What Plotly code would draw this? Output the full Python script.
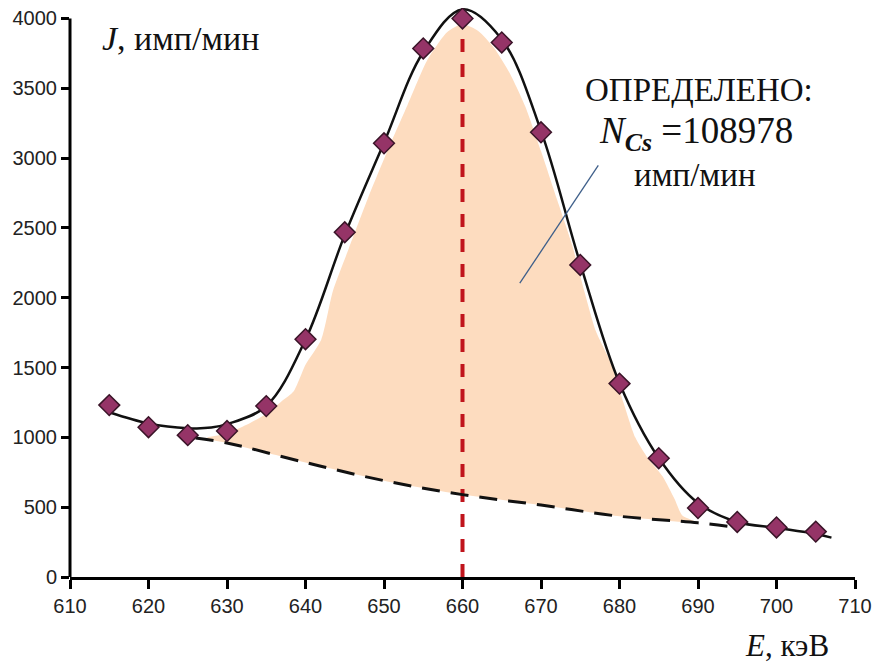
import plotly.graph_objects as go

# Measured spectrum points (energy, keV -> count rate, imp/min)
energy = [615, 620, 625, 630, 635, 640, 645, 650, 655, 660,
          665, 670, 675, 680, 685, 690, 695, 700, 705]
counts = [1231, 1073, 1016, 1045, 1224, 1703, 2469, 3106, 3785, 4000,
          3828, 3185, 2235, 1385, 851, 494, 394, 355, 325]

# Fitted peak curve
fit_e = [615, 620, 625, 628, 630, 635, 640, 645, 650, 655, 660,
         665, 670, 675, 680, 685, 690, 695, 700, 705, 707]
fit_j = [1180, 1100, 1066, 1070, 1095, 1224, 1700, 2450, 3110, 3760, 4065,
         3850, 3195, 2245, 1388, 852, 530, 394, 352, 308, 282]

# Background (continuum) under the peak
bg_e = [626, 630, 640, 650, 660, 670, 680, 690, 694]
bg_j = [995, 960, 820, 690, 590, 515, 435, 388, 362]

# Outline of the shaded net-peak area
area_top_e = [627.5, 630, 632.5, 635, 637, 638.5, 640, 642, 643.5, 645.5, 648,
              650.5, 653, 655.5, 658, 660, 662, 664, 666, 668, 670, 672,
              674, 675.5, 677, 679, 680.5, 682, 683.5, 685.5, 687, 688, 690]
area_top_j = [1000, 1030, 1090, 1170, 1260, 1330, 1520, 1700, 2050, 2350, 2720,
              3060, 3380, 3700, 3900, 3960, 3910, 3790, 3610, 3370, 3050, 2710,
              2370, 2050, 1760, 1520, 1250, 1000, 860, 720, 560, 440, 390]
area_bot_e = [690, 680, 670, 660, 650, 640, 630, 627.5]
area_bot_j = [388, 435, 515, 590, 690, 820, 960, 985]

peak_e = 660
peak_top = 3900
leader_e = [667.3, 677.3]
leader_j = [2104, 2948]

x_ticks = list(range(610, 711, 10))
y_ticks = list(range(0, 4001, 500))
y_max_tick = 4000
y_view_top = 4075   # a little headroom so the fitted peak is not clipped

tick_font = dict(family="Liberation Sans Narrow, Arial Narrow, Liberation Sans, sans-serif",
                 size=20, color="#222222")
serif = "Liberation Serif, Times New Roman, serif"

fig = go.Figure()

fig.add_trace(go.Scatter(
    x=area_top_e + area_bot_e, y=area_top_j + area_bot_j,
    mode="lines", fill="toself", fillcolor="#FDDCBF",
    line=dict(width=0, color="#FDDCBF", shape="spline", smoothing=0.6),
    hoverinfo="skip", showlegend=False))

fig.add_trace(go.Scatter(
    x=[peak_e, peak_e], y=[0, peak_top], mode="lines",
    line=dict(color="#C0141C", width=4, dash="13px,12px"),
    showlegend=False))

fig.add_trace(go.Scatter(
    x=bg_e, y=bg_j, mode="lines",
    line=dict(color="#111111", width=3, dash="18px,11px", shape="spline"),
    showlegend=False))

fig.add_trace(go.Scatter(
    x=fit_e, y=fit_j, mode="lines",
    line=dict(color="#111111", width=2.5, shape="spline", smoothing=1.0),
    showlegend=False))

fig.add_trace(go.Scatter(
    x=leader_e, y=leader_j, mode="lines",
    line=dict(color="#3E5F8A", width=1.3),
    showlegend=False))

fig.add_trace(go.Scatter(
    x=energy, y=counts, mode="markers",
    marker=dict(symbol="diamond", size=16, color="#953467",
                line=dict(color="#3A1428", width=1.5)),
    showlegend=False))

fig.update_xaxes(range=[610, 710], tickvals=x_ticks, ticktext=[str(v) for v in x_ticks],
                 showline=True, linecolor="black", linewidth=3,
                 ticks="outside", ticklen=9, tickwidth=2.5, tickcolor="black",
                 showgrid=False, zeroline=False, tickfont=tick_font, automargin=False)
fig.update_yaxes(range=[0, y_view_top], tickvals=y_ticks, ticktext=[str(v) for v in y_ticks],
                 showline=False,
                 ticks="outside", ticklen=8, tickwidth=2.5, tickcolor="black",
                 showgrid=False, zeroline=False, tickfont=tick_font, automargin=False)

# Vertical axis line ending at the top tick
fig.add_shape(type="line", xref="paper", yref="y", x0=0, x1=0, y0=0, y1=y_max_tick,
              line=dict(color="black", width=3), layer="above")

fig.add_annotation(x=613.8, y=3857, xref="x", yref="y", xanchor="left", yanchor="middle",
                   text="<i>J</i>, имп/мин", showarrow=False,
                   font=dict(family=serif, size=34, color="#111111"))
fig.add_annotation(x=0.857, y=-0.121, xref="paper", yref="paper", xanchor="left", yanchor="middle",
                   text="<i>E</i>, кэВ", showarrow=False,
                   font=dict(family=serif, size=31, color="#111111"))
fig.add_annotation(x=690.1, y=3485, xref="x", yref="y", xanchor="center", yanchor="middle",
                   text="ОПРЕДЕЛЕНО:", showarrow=False,
                   font=dict(family=serif, size=33, color="#111111"))
fig.add_annotation(x=689.8, y=3177, xref="x", yref="y", xanchor="center", yanchor="middle",
                   text="<i>N</i><sub><b><i>Cs</i></b></sub> =108978", showarrow=False,
                   font=dict(family=serif, size=37, color="#111111"))
fig.add_annotation(x=689.6, y=2877, xref="x", yref="y", xanchor="center", yanchor="middle",
                   text="имп/мин", showarrow=False,
                   font=dict(family=serif, size=33, color="#111111"))

fig.update_layout(
    width=873, height=663,
    margin=dict(l=70, r=18, t=8, b=86),
    plot_bgcolor="white", paper_bgcolor="white",
    showlegend=False,
)

fig.write_html("out.html")
